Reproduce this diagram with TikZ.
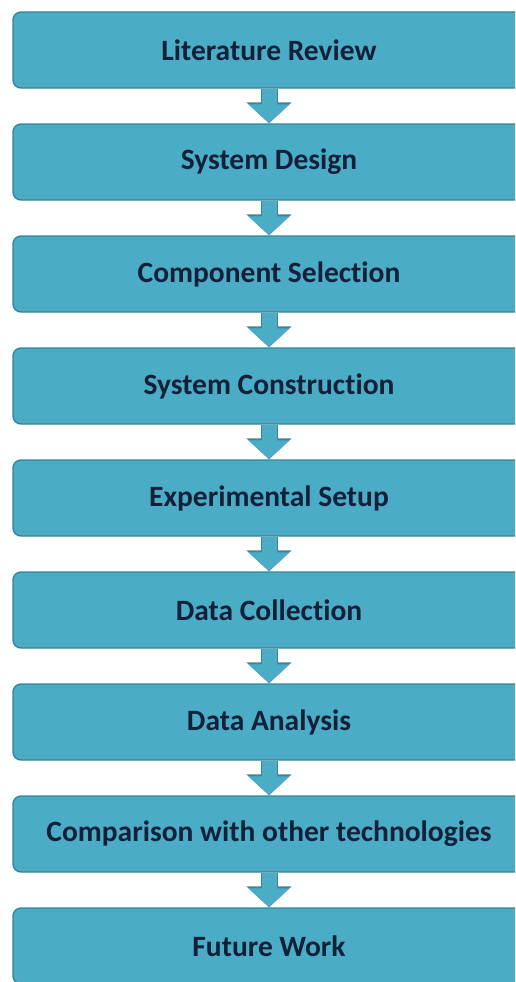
\documentclass[tikz,border=0pt]{standalone}
\usepackage{fontspec}
\setmainfont[Ligatures=NoCommon]{Carlito}
\usetikzlibrary{arrows.meta}
\definecolor{stepfill}{HTML}{4BACC6}
\definecolor{stepline}{HTML}{3A8499}
\definecolor{steptext}{HTML}{12203A}
\tikzstyle{stepbox} = [draw=stepline, line width=1.4pt, fill=stepfill, rounded corners=8pt, minimum width=512pt, minimum height=76pt, text=steptext, font=\fontsize{29.5}{34}\selectfont\bfseries]
\tikzstyle{arrow} = [line width=15pt, draw=stepfill, -{Triangle[width=40pt,length=19pt]}, preaction={draw=stepline, line width=17pt, -{Triangle[width=44pt,length=21pt]}}]

\begin{document}
\begin{tikzpicture}[node distance=112pt]
  \path[use as bounding box, clip] (0pt,0pt) rectangle (515pt,-982pt);
  \node[stepbox] (s0) at (269pt,-50pt) {Literature Review};
  \node[stepbox, below of=s0] (s1) {System Design};
  \node[stepbox, below of=s1] (s2) {Component Selection};
  \node[stepbox, below of=s2] (s3) {System Construction};
  \node[stepbox, below of=s3] (s4) {Experimental Setup};
  \node[stepbox, below of=s4] (s5) {Data Collection};
  \node[stepbox, below of=s5] (s6) {Data Analysis};
  \node[stepbox, below of=s6] (s7) {Comparison with other technologies};
  \node[stepbox, below of=s7] (s8) {Future Work};
  \draw[arrow] (s0) -- (s1);
  \draw[arrow] (s1) -- (s2);
  \draw[arrow] (s2) -- (s3);
  \draw[arrow] (s3) -- (s4);
  \draw[arrow] (s4) -- (s5);
  \draw[arrow] (s5) -- (s6);
  \draw[arrow] (s6) -- (s7);
  \draw[arrow] (s7) -- (s8);
\end{tikzpicture}
\end{document}
